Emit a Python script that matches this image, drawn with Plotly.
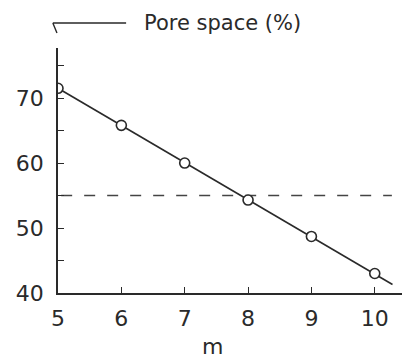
import plotly.graph_objects as go

# data
m_values = [5, 6, 7, 8, 9, 10]
pore_space = [71.5, 65.8, 60.0, 54.3, 48.7, 43.0]
fit_x = [5, 10.28]
fit_y = [71.5, 41.3]
ref_x = [5.05, 10.27]
ref_y = [55, 55]
x_ticks = [5, 6, 7, 8, 9, 10]
y_ticks = [40, 50, 60, 70]

INK = "#2a2a2a"
FONT = "DejaVu Sans"

fig = go.Figure()
fig.add_trace(go.Scatter(x=fit_x, y=fit_y, mode="lines",
                         line=dict(color=INK, width=1.6), showlegend=False))
fig.add_trace(go.Scatter(x=ref_x, y=ref_y, mode="lines",
                         line=dict(color="#444", width=1.6, dash="11px,12px"), showlegend=False))
fig.add_trace(go.Scatter(x=m_values, y=pore_space, mode="markers",
                         marker=dict(symbol="circle", size=10, color="white",
                                     line=dict(color=INK, width=1.6)),
                         showlegend=False))

fig.update_layout(
    width=404, height=359,
    margin=dict(l=58, r=2, t=48, b=66),
    plot_bgcolor="white", paper_bgcolor="white",
    font=dict(family=FONT, color=INK, size=22),
    xaxis=dict(range=[5, 10.43], showgrid=False, zeroline=False,
               showline=True, linecolor=INK, linewidth=1.6,
               tickmode="array", tickvals=x_ticks, ticktext=[str(v) for v in x_ticks],
               ticks="inside", ticklen=6, tickwidth=1.4, tickcolor=INK,
               ticklabelstandoff=5, tickfont=dict(size=22)),
    yaxis=dict(range=[40, 77.7], showgrid=False, zeroline=False,
               showline=True, linecolor=INK, linewidth=1.6,
               tickmode="array", tickvals=y_ticks, ticktext=[str(v) for v in y_ticks],
               ticks="inside", ticklen=6, tickwidth=1.4, tickcolor=INK,
               minor=dict(dtick=5, tick0=40, ticks="inside", ticklen=6, tickwidth=1.4, tickcolor=INK),
               ticklabelstandoff=8, tickfont=dict(size=22)),
    shapes=[dict(type="path", xref="paper", yref="paper",
                 path="M -0.015 1.102 L 0.198 1.102 M -0.015 1.102 L -0.003 1.061",
                 line=dict(color=INK, width=1.4))],
    annotations=[
        dict(text="Pore space (%)", xref="paper", yref="paper", x=0.244, y=1.102,
             xanchor="left", yanchor="middle", showarrow=False, font=dict(size=21)),
        dict(text="m", xref="paper", yref="paper", x=0.45, y=-0.22,
             xanchor="center", yanchor="middle", showarrow=False, font=dict(size=22)),
    ],
)

fig.write_html("out.html")
